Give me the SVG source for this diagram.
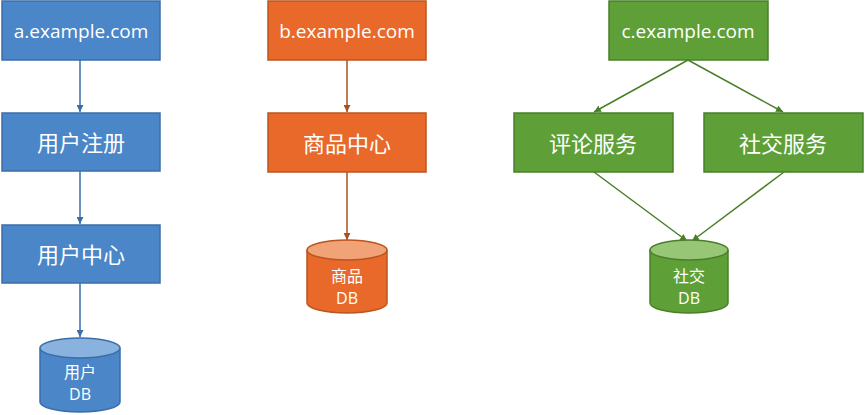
<svg xmlns="http://www.w3.org/2000/svg" width="865" height="415" viewBox="0 0 865 415">
<defs>
<style>
text{font-family:"Open Sans","Noto Sans CJK SC",sans-serif;fill:#fff;text-anchor:middle;dominant-baseline:central}
.t{font-size:19px}
.c{font-size:22px}
.d{font-size:16px}
.b{fill:#4a86c8;stroke:#3b6ea8;stroke-width:1.5}
.o{fill:#e8692a;stroke:#b9551f;stroke-width:1.5}
.g{fill:#5e9f37;stroke:#4a7f2a;stroke-width:1.5}
.bt{fill:#8ab2df;stroke:#3b6ea8;stroke-width:1.5}
.ot{fill:#f2a277;stroke:#b9551f;stroke-width:1.5}
.gt{fill:#97c676;stroke:#4a7f2a;stroke-width:1.5}
.lb{stroke:#3b6ea8;stroke-width:1.5;fill:none}
.lo{stroke:#a8501f;stroke-width:1.5;fill:none}
.lg{stroke:#4a7f2a;stroke-width:1.5;fill:none}
</style>
<marker id="ab" viewBox="0 0 10 10" refX="10" refY="5" markerWidth="7" markerHeight="7" orient="auto" markerUnits="userSpaceOnUse"><path d="M0,0L10,5L0,10z" fill="#3b6ea8"/></marker>
<marker id="ao" viewBox="0 0 10 10" refX="10" refY="5" markerWidth="7" markerHeight="7" orient="auto" markerUnits="userSpaceOnUse"><path d="M0,0L10,5L0,10z" fill="#a8501f"/></marker>
<marker id="ag" viewBox="0 0 10 10" refX="10" refY="5" markerWidth="7" markerHeight="7" orient="auto" markerUnits="userSpaceOnUse"><path d="M0,0L10,5L0,10z" fill="#4a7f2a"/></marker>
</defs>
<rect width="865" height="415" fill="#fff"/>
<g id="connectors">
<line class="lb" x1="80" y1="60" x2="80" y2="112" marker-end="url(#ab)"/>
<line class="lb" x1="80" y1="171" x2="80" y2="224" marker-end="url(#ab)"/>
<line class="lb" x1="80" y1="283" x2="80" y2="337" marker-end="url(#ab)"/>
<line class="lo" x1="347" y1="60" x2="347" y2="112" marker-end="url(#ao)"/>
<line class="lo" x1="347" y1="172" x2="347" y2="240" marker-end="url(#ao)"/>
<line class="lg" x1="688" y1="60" x2="594" y2="112" marker-end="url(#ag)"/>
<line class="lg" x1="688" y1="60" x2="783" y2="112" marker-end="url(#ag)"/>
<line class="lg" x1="594" y1="172" x2="687" y2="241" marker-end="url(#ag)"/>
<line class="lg" x1="784" y1="172" x2="692" y2="241" marker-end="url(#ag)"/>
</g>
<g id="a-example">
<rect class="b" x="2" y="1" width="158" height="59"/>
<text class="t" x="81" y="31">a.example.com</text>
</g>
<g id="user-register">
<rect class="b" x="2" y="113" width="158" height="58"/>
<text class="c" x="81" y="142">用户注册</text>
</g>
<g id="user-center">
<rect class="b" x="2" y="225" width="158" height="58"/>
<text class="c" x="81" y="254">用户中心</text>
</g>
<g id="user-db">
<path class="b" d="M40,348V402A40,10 0 0 0 120,402V348"/>
<ellipse class="bt" cx="80" cy="348" rx="40" ry="10"/>
<text class="d" x="80" y="372">用户</text>
<text class="d" x="80" y="394">DB</text>
</g>
<g id="b-example">
<rect class="o" x="268" y="1" width="158" height="59"/>
<text class="t" x="347" y="31">b.example.com</text>
</g>
<g id="product-center">
<rect class="o" x="268" y="113" width="158" height="59"/>
<text class="c" x="347" y="143">商品中心</text>
</g>
<g id="product-db">
<path class="o" d="M307,250V303A40,10 0 0 0 387,303V250"/>
<ellipse class="ot" cx="347" cy="250" rx="40" ry="10"/>
<text class="d" x="347" y="276">商品</text>
<text class="d" x="347" y="298">DB</text>
</g>
<g id="c-example">
<rect class="g" x="609" y="1" width="159" height="59"/>
<text class="t" x="688" y="31">c.example.com</text>
</g>
<g id="comment-service">
<rect class="g" x="514" y="113" width="159" height="59"/>
<text class="c" x="593" y="143">评论服务</text>
</g>
<g id="social-service">
<rect class="g" x="704" y="113" width="159" height="59"/>
<text class="c" x="783" y="143">社交服务</text>
</g>
<g id="social-db">
<path class="g" d="M650,250V303A39,10 0 0 0 728,303V250"/>
<ellipse class="gt" cx="689" cy="250" rx="39" ry="10"/>
<text class="d" x="689" y="276">社交</text>
<text class="d" x="689" y="298">DB</text>
</g>
</svg>
